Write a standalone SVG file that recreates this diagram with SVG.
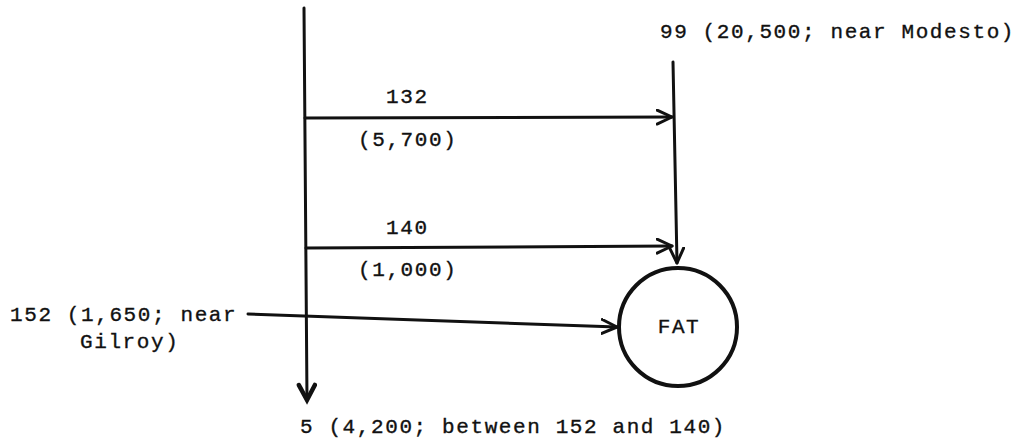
<svg xmlns="http://www.w3.org/2000/svg" width="1021" height="443" viewBox="0 0 1021 443">
<style>
text{font-family:"Liberation Mono","DejaVu Sans Mono",monospace;font-size:21px;letter-spacing:1.6px;fill:#111;stroke:#111;stroke-width:0.35px}
.ln{stroke:#111;stroke-width:3;fill:none;stroke-linecap:round}
.ah{stroke:#111;stroke-width:3;fill:none;stroke-linecap:round;stroke-linejoin:round}
</style>
<defs>
<marker id="open" markerWidth="20" markerHeight="20" refX="16" refY="8" orient="auto" markerUnits="userSpaceOnUse">
<path d="M1,1 L16,8 L1,15" class="ah"/>
</marker>
<marker id="thick" markerWidth="24" markerHeight="24" refX="18" refY="10" orient="auto" markerUnits="userSpaceOnUse">
<path d="M3,2 L18,10 L3,18" fill="none" stroke="#111" stroke-width="4.5" stroke-linecap="round" stroke-linejoin="miter"/>
</marker>
</defs>
<g id="connectors">
<line id="route5" class="ln" x1="304" y1="8" x2="307" y2="400" marker-end="url(#thick)"/>
<line id="route99" class="ln" x1="673" y1="62" x2="677" y2="263" marker-end="url(#open)"/>
<line id="route132" class="ln" x1="305" y1="118" x2="672" y2="117" marker-end="url(#open)"/>
<line id="route140" class="ln" x1="306" y1="248" x2="672" y2="246" marker-end="url(#open)"/>
<line id="route152" class="ln" x1="248" y1="314" x2="617" y2="327" marker-end="url(#open)"/>
</g>
<g id="node-fat">
<circle cx="678" cy="327" r="59" fill="none" stroke="#111" stroke-width="4"/>
<text x="679" y="333" text-anchor="middle">FAT</text>
</g>
<g id="label-99"><text x="660" y="38">99 (20,500; near Modesto)</text></g>
<g id="label-132"><text x="386" y="103">132</text><text x="358" y="146">(5,700)</text></g>
<g id="label-140"><text x="386" y="234">140</text><text x="358" y="276">(1,000)</text></g>
<g id="label-152"><text x="10" y="321">152 (1,650; near</text><text x="80" y="348">Gilroy)</text></g>
<g id="label-5"><text x="300" y="433">5 (4,200; between 152 and 140)</text></g>
</svg>
